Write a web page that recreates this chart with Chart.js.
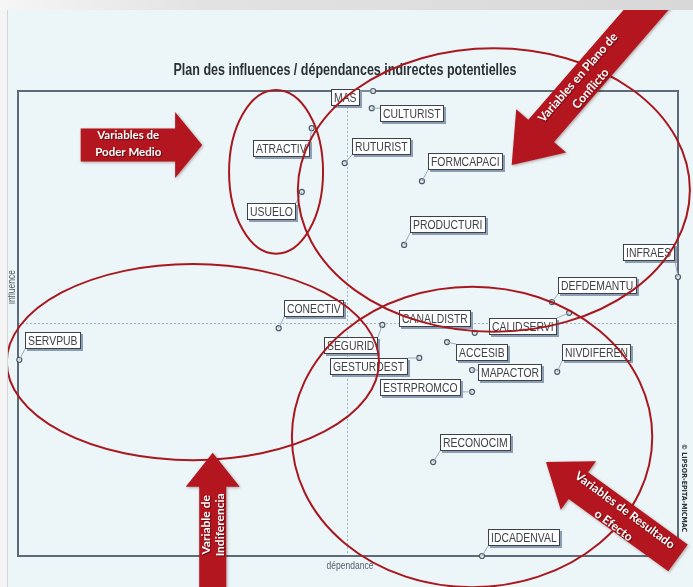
<!DOCTYPE html>
<html>
<head>
<meta charset="utf-8">
<script src="https://cdn.jsdelivr.net/npm/chart.js@4.4.1/dist/chart.umd.min.js"></script>
<style>
  html, body { margin: 0; padding: 0; background: #ecf5f8; }
  #wrap { width: 693px; height: 587px; }
</style>
</head>
<body>
<div id="wrap"><canvas id="plan" width="693" height="587"></canvas></div>
<script>
// variables MICMAC : dépendance (x) / influence (y), en % de l'échelle
const variables = ['MAS', 'CULTURIST', 'ATRACTIV', 'RUTURIST', 'FORMCAPACI', 'USUELO', 'PRODUCTURI',
  'INFRAES', 'DEFDEMANTU', 'CALIDSERVI', 'CANALDISTR', 'SEGURID', 'ACCESIB', 'CONECTIV', 'SERVPUB',
  'GESTURDEST', 'MAPACTOR', 'NIVDIFEREN', 'ESTRPROMCO', 'RECONOCIM', 'IDCADENVAL'];
const dependance = [53.8, 53.6, 44.5, 49.5, 61.2, 43.0, 58.5, 100, 80.9, 83.5, 69.2, 55.2, 65.0, 39.5, 0.2,
  60.8, 68.8, 81.7, 68.8, 62.9, 70.3];
const influence = [100, 96.3, 92.0, 84.5, 80.6, 78.3, 66.9, 60.0, 54.6, 52.3, 48.0, 49.7, 46.0, 49.0, 42.2,
  42.6, 40.0, 39.6, 35.3, 20.2, 0];
const moyenneDependance = 49.8;
const moyenneInfluence = 50.1;

// placement des étiquettes (px) : [dx, dy, côté du point]
const labelOffsets = {
  MAS: [-13, -2, 'right'], CULTURIST: [8, -3, 'left'], ATRACTIV: [-2, 12, 'right'],
  RUTURIST: [7, -25, 'left'], FORMCAPACI: [6, -28, 'left'], USUELO: [-6, 11, 'right'],
  PRODUCTURI: [6, -29, 'left'], INFRAES: [-3, -33, 'right'], DEFDEMANTU: [6, -25, 'left'],
  CALIDSERVI: [-12, 5, 'right'], CANALDISTR: [-4, -23, 'right'], SEGURID: [-4, 12, 'right'],
  ACCESIB: [9, 2, 'left'], CONECTIV: [5, -28, 'left'], SERVPUB: [6, -28, 'left'],
  GESTURDEST: [-11, 0, 'right'], MAPACTOR: [6, -6, 'left'], NIVDIFEREN: [5, -28, 'left'],
  ESTRPROMCO: [-11, -13, 'right'], RECONOCIM: [7, -28, 'left'], IDCADENVAL: [6, -27, 'left']
};

// zones annotées (unités du graphique)
const zones = [
  { cx: 39.1, cy: 82.6, rx: 7.12, ry: 17.6 },
  { cx: 72.1, cy: 78.7, rx: 29.7, ry: 30.5 },
  { cx: 26.5, cy: 41.7, rx: 28.2, ry: 21.1 },
  { cx: 68.8, cy: 25.6, rx: 27.3, ry: 32.3 }
];

const arrows = [
  { tail: [9.5, 88.4], tip: [27.9, 88.4], body: 16.5, head: 33, headLen: 27,
    text: ['Variables de', 'Poder Medio'], at: [16.7, 88.6], angle: 0, gap: 17, font: "bold 11.5px Lato" },
  { tail: [29.5, -9.5], tip: [29.5, 22.2], body: 13.5, head: 27, headLen: 34,
    text: ['Variable de', 'Indiferencia'], at: [29.5, 6.7], angle: -90, gap: 14, font: "bold 12px Lato" },
  { tail: [97.1, 120.6], tip: [74.8, 84.1], body: 17, head: 33, headLen: 45,
    text: ['Variables en Plano de', 'Conflicto'], at: [85.8, 101.7], angle: -49, gap: 17, font: "bold 12px Lato" },
  { tail: [100, -0.4], tip: [80.0, 20.2], body: 16.5, head: 30, headLen: 40,
    text: ['Variables de Resultado', 'o Efecto'], at: [91.1, 8.2], angle: 36.5, gap: 19, font: "bold 12px Lato" }
];

const red = '#a8181f';
// Arial Narrow n'est pas là : Liberation Sans resserré à l'horizontale
const labelFont = "13px 'Liberation Sans', Arial, sans-serif";
const labelSqueeze = 0.8;

function narrowText(ctx, text, x, y, squeeze) {
  ctx.save();
  ctx.translate(x, y);
  ctx.scale(squeeze, 1);
  ctx.fillText(text, 0, 0);
  ctx.restore();
}

function drawArrow(ctx, tail, tip, bodyHalf, headHalf, headLen) {
  const dx = tip.x - tail.x, dy = tip.y - tail.y;
  const len = Math.hypot(dx, dy);
  const ux = dx / len, uy = dy / len, nx = -uy, ny = ux;
  const bx = tip.x - ux * headLen, by = tip.y - uy * headLen;
  ctx.beginPath();
  ctx.moveTo(tail.x + nx * bodyHalf, tail.y + ny * bodyHalf);
  ctx.lineTo(bx + nx * bodyHalf, by + ny * bodyHalf);
  ctx.lineTo(bx + nx * headHalf, by + ny * headHalf);
  ctx.lineTo(tip.x, tip.y);
  ctx.lineTo(bx - nx * headHalf, by - ny * headHalf);
  ctx.lineTo(bx - nx * bodyHalf, by - ny * bodyHalf);
  ctx.lineTo(tail.x - nx * bodyHalf, tail.y - ny * bodyHalf);
  ctx.closePath();
  ctx.fill();
}

const decor = {
  id: 'decor',
  beforeDraw(chart) {
    const { ctx } = chart;
    ctx.save();
    ctx.fillStyle = '#ecf5f8';
    ctx.fillRect(0, 0, chart.width, chart.height);
    ctx.restore();
  },
  beforeDatasetsDraw(chart) {
    const { ctx, chartArea: a, scales: { x, y } } = chart;
    ctx.save();
    ctx.strokeStyle = '#9fb6cb';
    ctx.lineWidth = 1;
    ctx.setLineDash([2, 2]);
    const mx = Math.round(x.getPixelForValue(moyenneDependance)) + 0.5;
    const my = Math.round(y.getPixelForValue(moyenneInfluence)) + 0.5;
    ctx.beginPath();
    ctx.moveTo(mx, a.top); ctx.lineTo(mx, a.bottom);
    ctx.moveTo(a.left, my); ctx.lineTo(a.right, my);
    ctx.stroke();
    ctx.setLineDash([]);
    ctx.strokeStyle = '#5d6a78';
    ctx.lineWidth = 2;
    ctx.strokeRect(a.left, a.top, a.right - a.left, a.bottom - a.top);

    const title = 'Plan des influences / dépendances indirectes potentielles';
    ctx.fillStyle = '#2b3035';
    ctx.font = "bold 16px 'Liberation Sans', Arial, sans-serif";
    ctx.textAlign = 'left';
    ctx.textBaseline = 'middle';
    const tw = ctx.measureText(title).width;
    const sq = 343 / tw;
    narrowText(ctx, title, 345 - tw * sq / 2, 71, sq);

    ctx.fillStyle = '#56606b';
    ctx.textAlign = 'center';
    ctx.font = "10px 'Liberation Sans', Arial, sans-serif";
    narrowText(ctx, 'dépendance', 350, 566, 0.85);
    ctx.save();
    ctx.translate(12, 287);
    ctx.rotate(-Math.PI / 2);
    narrowText(ctx, 'influence', 0, 0, 0.85);
    ctx.restore();
    ctx.restore();
  },
  afterDatasetsDraw(chart) {
    const { ctx } = chart;
    const pts = chart.getDatasetMeta(0).data;
    ctx.save();
    ctx.font = labelFont;
    const boxes = variables.map((name, i) => {
      const [ox, oy, side] = labelOffsets[name];
      const w = Math.ceil(ctx.measureText(name).width * labelSqueeze) + 6, h = 17;
      const bx = Math.round(side === 'left' ? pts[i].x + ox : pts[i].x + ox - w);
      const by = Math.round(pts[i].y + oy);
      return { name, bx, by, w, h, px: pts[i].x, py: pts[i].y };
    });
    ctx.strokeStyle = '#9aabbd';
    ctx.lineWidth = 1;
    boxes.forEach(b => {
      const lx = Math.min(Math.max(b.px, b.bx), b.bx + b.w);
      const ly = Math.min(Math.max(b.py, b.by), b.by + b.h);
      ctx.beginPath();
      ctx.moveTo(b.px, b.py); ctx.lineTo(lx, ly);
      ctx.stroke();
    });
    boxes.forEach(b => {
      ctx.fillStyle = '#8d9db3';
      ctx.fillRect(b.bx + 2, b.by + 2, b.w, b.h);
      ctx.fillStyle = '#ffffff';
      ctx.fillRect(b.bx, b.by, b.w, b.h);
      ctx.strokeStyle = '#3a434d';
      ctx.strokeRect(b.bx + 0.5, b.by + 0.5, b.w - 1, b.h - 1);
      ctx.fillStyle = '#3c4249';
      ctx.textAlign = 'left';
      ctx.textBaseline = 'middle';
      narrowText(ctx, b.name, b.bx + 3, b.by + b.h / 2 + 1, labelSqueeze);
    });
    ctx.restore();
  },
  afterDraw(chart) {
    const { ctx, scales: { x, y } } = chart;
    const px = (p) => ({ x: x.getPixelForValue(p[0]), y: y.getPixelForValue(p[1]) });
    ctx.save();
    // ellipses
    ctx.strokeStyle = red;
    ctx.lineWidth = 2;
    zones.forEach(z => {
      const c = px([z.cx, z.cy]);
      const rx = Math.abs(x.getPixelForValue(z.cx + z.rx) - c.x);
      const ry = Math.abs(y.getPixelForValue(z.cy + z.ry) - c.y);
      ctx.beginPath();
      ctx.ellipse(c.x, c.y, rx, ry, 0, 0, Math.PI * 2);
      ctx.stroke();
    });
    // flèches
    arrows.forEach(a => {
      ctx.save();
      ctx.fillStyle = '#b3161f';
      ctx.shadowColor = 'rgba(60,0,0,0.35)';
      ctx.shadowBlur = 3;
      ctx.shadowOffsetX = 1;
      ctx.shadowOffsetY = 1;
      drawArrow(ctx, px(a.tail), px(a.tip), a.body, a.head, a.headLen);
      ctx.restore();
      const c = px(a.at);
      ctx.save();
      ctx.translate(c.x, c.y);
      ctx.rotate(a.angle * Math.PI / 180);
      ctx.fillStyle = '#ffffff';
      ctx.shadowColor = 'rgba(0,0,0,0.45)';
      ctx.shadowBlur = 1;
      ctx.shadowOffsetX = 1;
      ctx.shadowOffsetY = 1;
      ctx.font = a.font;
      ctx.textAlign = 'center';
      ctx.textBaseline = 'middle';
      a.text.forEach((t, k) => ctx.fillText(t, 0, (k - (a.text.length - 1) / 2) * a.gap));
      ctx.restore();
    });
    // mention LIPSOR
    ctx.save();
    ctx.translate(684, 488);
    ctx.rotate(Math.PI / 2);
    ctx.fillStyle = '#2f3338';
    ctx.font = "bold 7px 'DejaVu Sans Condensed', sans-serif";
    ctx.textAlign = 'center';
    ctx.textBaseline = 'middle';
    ctx.fillText('© LIPSOR-EPITA-MICMAC', 0, 0);
    ctx.restore();
    // bandeau gris haut + bord gauche
    const g = ctx.createLinearGradient(0, 0, chart.width, 0);
    g.addColorStop(0, '#f6f6f6');
    g.addColorStop(0.3, '#e2e2e2');
    g.addColorStop(1, '#d8d8d8');
    ctx.fillStyle = g;
    ctx.fillRect(0, 0, chart.width, 10);
    ctx.fillStyle = '#f4f4f4';
    ctx.fillRect(0, 10, 7, chart.height - 10);
    ctx.fillStyle = '#d2d6d8';
    ctx.fillRect(7, 10, 1, chart.height - 10);
    ctx.restore();
  }
};

new Chart(document.getElementById('plan'), {
  type: 'scatter',
  data: {
    datasets: [{
      label: 'variables',
      data: variables.map((v, i) => ({ x: dependance[i], y: influence[i] })),
      pointRadius: 2.5,
      pointBorderWidth: 1.2,
      borderColor: '#4d5966',
      backgroundColor: '#e4ebf2',
      clip: false
    }]
  },
  options: {
    responsive: false,
    animation: false,
    layout: { padding: { left: 18, top: 91, right: 15, bottom: 31 } },
    scales: {
      x: { min: 0, max: 100, display: false },
      y: { min: 0, max: 100, display: false }
    },
    plugins: { legend: { display: false }, tooltip: { enabled: false } }
  },
  plugins: [decor]
});
</script>
</body>
</html>
